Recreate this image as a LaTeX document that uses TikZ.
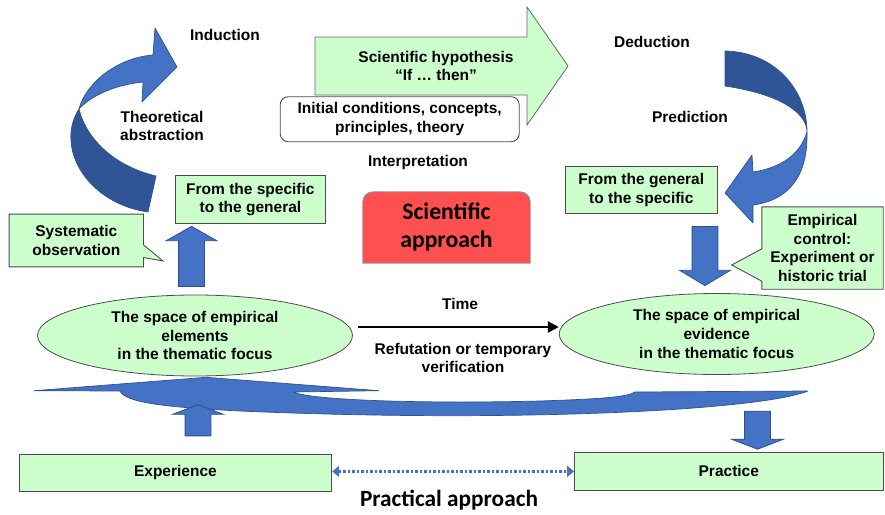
\documentclass[tikz,border=0pt]{standalone}
\usepackage{fontspec}
\setmainfont{Liberation Sans}
\newfontfamily\calfont{Carlito}
\usetikzlibrary{shapes.geometric,shapes.arrows,arrows.meta,backgrounds}
\definecolor{paleGreen}{HTML}{CCFFCC}
\definecolor{arrowblue}{HTML}{4472C4}
\definecolor{arrowdark}{HTML}{2F5597}
\definecolor{arrowline}{HTML}{2F528F}
\definecolor{redfill}{HTML}{FF5050}
\definecolor{redline}{HTML}{8497B0}
\newcommand{\lblfont}{\fontsize{15.5}{18.6}\selectfont\bfseries}
\begin{document}
\begin{tikzpicture}[x=1pt,y=-1pt]
        \tikzstyle{lbl}=[font=\lblfont,align=center,inner sep=0pt]
        \tikzstyle{greenbox}=[lbl,rectangle,draw=black!70,fill=paleGreen,line width=0.9pt]
        \tikzstyle{calloutshape}=[draw=black!70,fill=paleGreen,line width=0.9pt]
        \tikzstyle{thematic}=[lbl,ellipse,draw=black!70,fill=paleGreen,line width=0.8pt,minimum width=315pt,minimum height=81pt]
        \tikzstyle{blockarrow}=[single arrow,draw=arrowline,fill=arrowblue,line width=0.8pt,inner sep=0pt,text height=12.5pt,text depth=12.5pt,single arrow head extend=12.5pt]
        \tikzstyle{ribbon}=[draw=arrowline,line width=0.7pt,line join=round]
        \tikzstyle{timearrow}=[-{Triangle[length=11pt,width=11pt]},line width=2.6pt]
        \tikzstyle{practarrow}=[{Triangle[length=7pt,width=11pt]}-{Triangle[length=7pt,width=11pt]},draw=arrowblue,line width=2.6pt,dash pattern=on 2.5pt off 2pt]
        \useasboundingbox (0,0) rectangle (885,514);
       \begin{scope}
         % hypothesis arrow and the two turning arrows
         \filldraw[draw=black!60,fill=paleGreen,line width=0.8pt] (315,37) -- (527,37) -- (527,7) -- (568,66) -- (527,125) -- (527,95) -- (315,95) -- cycle;
         \node [lbl] (hypo) at (436,66) {Scientific hypothesis\\“If … then”};
         \node [lbl,draw=black!70,fill=white,rounded corners=8pt,line width=0.9pt,minimum width=239pt,minimum height=45pt] (init) at (399.7,119.2) {Initial conditions, concepts,\\principles, theory};
         \filldraw[ribbon,fill=arrowblue] (79,109) .. controls (85,85) and (115,58) .. (153,55) -- (155,28) -- (177,67) -- (142,102) -- (143,82) .. controls (115,85) and (92,95) .. (79,109) -- cycle;
         \filldraw[ribbon,fill=arrowdark] (79,109) .. controls (73,118) and (70,130) .. (71,140) .. controls (72,170) and (100,205) .. (148,212) -- (156,176) .. controls (110,165) and (85,135) .. (79,109) -- cycle;
         \filldraw[ribbon,fill=arrowdark] (725,51) .. controls (775,52) and (807,90) .. (807,132) .. controls (807,115) and (785,95) .. (725,86) -- cycle;
         \filldraw[ribbon,fill=arrowblue] (807,132) .. controls (808,175) and (790,200) .. (753,205) -- (753,223) -- (725,193) -- (752,155) -- (753,172) .. controls (780,168) and (800,155) .. (807,132) -- cycle;
         \node [lbl] (induct) at (225,35) {Induction};
         \node [lbl] (theo) at (162,126) {Theoretical\\abstraction};
         \node [lbl] (deduct) at (652,42) {Deduction};
         \node [lbl] (pred) at (690,117) {Prediction};
         \node [lbl] (interp) at (418,162) {Interpretation};
        \end{scope}
       \begin{scope}
         \node [greenbox,minimum width=150.7pt,minimum height=47.6pt] (spec2gen) at (250.4,199.5) {From the specific\\to the general};
         \node [greenbox,minimum width=152.7pt,minimum height=46.6pt] (gen2spec) at (641.3,190) {From the general\\to the specific};
         \node [lbl,minimum width=134pt,minimum height=52.4pt] (obs) at (76.3,240.5) {Systematic\\observation};
         \node [lbl,minimum width=121pt,minimum height=82pt] (emp) at (822.5,248) {Empirical\\control:\\Experiment or\\historic trial};
         \node [font=\calfont\fontsize{23.7}{28}\selectfont\bfseries,align=center,inner sep=0pt,minimum width=167pt,minimum height=71pt] (sci) at (446.5,227.5) {Scientific\\approach};
         \coordinate (obstip) at (163,261);
         \coordinate (emptip) at (731.7,265);
         \begin{pgfonlayer}{background}
           \filldraw[calloutshape] (obs.north west) -- (obs.north east) -- ([yshift=-30.7pt]obs.north east) -- (obstip) -- ([yshift=9.4pt]obs.south east) -- (obs.south east) -- (obs.south west) -- cycle;
           \filldraw[calloutshape] (emp.north east) -- (emp.north west) -- ([yshift=-42pt]emp.north west) -- (emptip) -- ([yshift=8pt]emp.south west) -- (emp.south west) -- (emp.south east) -- cycle;
           \filldraw[fill=redfill,draw=redline,line width=0.8pt] (sci.south west) -- ([yshift=-10pt]sci.north west) arc[start angle=180,end angle=90,radius=10pt] -- ([xshift=-10pt]sci.north east) arc[start angle=90,end angle=0,radius=10pt] -- (sci.south east) -- cycle;
         \end{pgfonlayer}
         \node [blockarrow,rotate=90,minimum height=60pt,single arrow tip angle=121] (up1) at (191.5,260) {};
         \node [blockarrow,rotate=-90,minimum height=59pt,single arrow tip angle=118] (down1) at (705,252.2) {};
        \end{scope}
       \begin{scope}
         \node [thematic] (elem) at (195,335.5) {The space of empirical\\elements\\in the thematic focus};
         \node [thematic] (evid) at (716.7,334) {The space of empirical\\evidence\\in the thematic focus};
         \coordinate (t0) at (358,327);
         \draw[timearrow] (t0) -- (t0 -| evid.west);
         \node [lbl] (time) at (460,304) {Time};
         \node [lbl] (refut) at (463,358) {Refutation or temporary\\verification};
         % feedback arrow
         \filldraw[draw=arrowline,fill=arrowblue,line width=0.7pt,line join=round] (808,391) -- (635,392) .. controls (628,397) and (600,399) .. (540,401) .. controls (420,404) and (310,400) .. (293,392) -- (379,390.7) -- (206,377.3) -- (34,390.7) -- (120,391) .. controls (125,402) and (160,407) .. (240,411) .. controls (400,418) and (560,417) .. (680,409) .. controls (750,404) and (790,398) .. (808,391) -- cycle;
         \node [blockarrow,rotate=90,minimum height=31.3pt,single arrow tip angle=138] (up2) at (198,422.7) {};
         \node [blockarrow,rotate=-90,minimum height=38pt,single arrow head extend=13pt,single arrow tip angle=138] (down2) at (757.5,427.7) {};
         \node [greenbox,minimum width=312.7pt,minimum height=37.7pt] (exper) at (175.4,472.9) {Experience};
         \node [greenbox,minimum width=308.5pt,minimum height=37.3pt] (pract) at (728.8,471.4) {Practice};
         \draw[practarrow] (pract.west -| exper.east) -- (pract.west);
         \node [font=\calfont\fontsize{23.3}{28}\selectfont\bfseries,anchor=base,inner sep=0pt] (practapp) at (449,506.7) {Practical approach};
        \end{scope}
      \end{tikzpicture}
\end{document}
